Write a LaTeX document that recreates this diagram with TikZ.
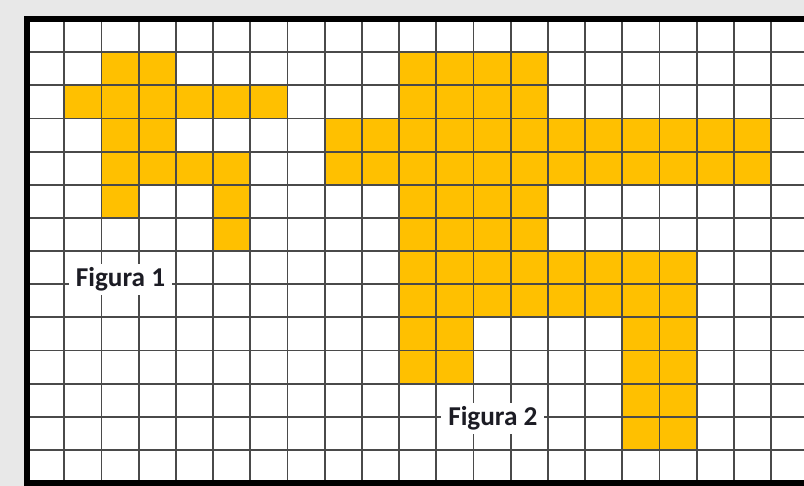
\documentclass[tikz,border=0pt]{standalone}
\usepackage{fontspec}
\setmainfont{Carlito}
\usetikzlibrary{positioning}
\definecolor{cgold}{HTML}{FFC000}
\definecolor{cpage}{HTML}{E8E8E8}
\definecolor{cline}{HTML}{4A4A4A}
\definecolor{ctext}{HTML}{1C1C24}
\tikzset{
  every picture/.style={line width=0.9pt},
  cell/.style={fill=cgold},
  gridline/.style={draw=cline, line width=1.05pt},
  frame/.style={draw=black, line width=3.4pt},
  label/.style={fill=white, text=ctext, font=\fontsize{15.5}{18}\selectfont\bfseries,
    inner xsep=0.14cm, inner ysep=0.07cm, anchor=base},
}

\begin{document}
\begin{tikzpicture}[x=0.744cm, y=-0.663cm]
  % page and sheet
  \fill[cpage] (-0.7285,-0.573) rectangle (20.884,14.087);
  \useasboundingbox (-0.7285,-0.573) rectangle (20.884,14.087);
  \fill[white] (0,0) rectangle (20.884,14);
  % figure 1
  \foreach \r/\a/\b in {1/2/3, 2/1/6, 3/2/3, 4/2/5, 5/2/2, 5/5/5, 6/5/5}
    \fill[cell] (\a,\r) rectangle ({\b+1},{\r+1});
  % figure 2
  \foreach \r/\a/\b in {1/10/13, 2/10/13, 3/8/19, 4/8/19, 5/10/13, 6/10/13,
      7/10/17, 8/10/17, 9/10/11, 9/16/17, 10/10/11, 10/16/17, 11/16/17, 12/16/17}
    \fill[cell] (\a,\r) rectangle ({\b+1},{\r+1});
  % grid
  \foreach \c in {1,...,20} \draw[gridline] (\c,0) -- (\c,14);
  \foreach \r in {1,...,13} \draw[gridline] (0,\r) -- (20.884,\r);
  \draw[frame] (20.884,0) -- (0,0) -- (0,14) -- (20.884,14);
  % labels
  \node[label] (fig1) at (2.51,8.07) {Figura 1};
  \node[label] (fig2) at (12.52,12.27) {Figura 2};
\end{tikzpicture}
\end{document}
